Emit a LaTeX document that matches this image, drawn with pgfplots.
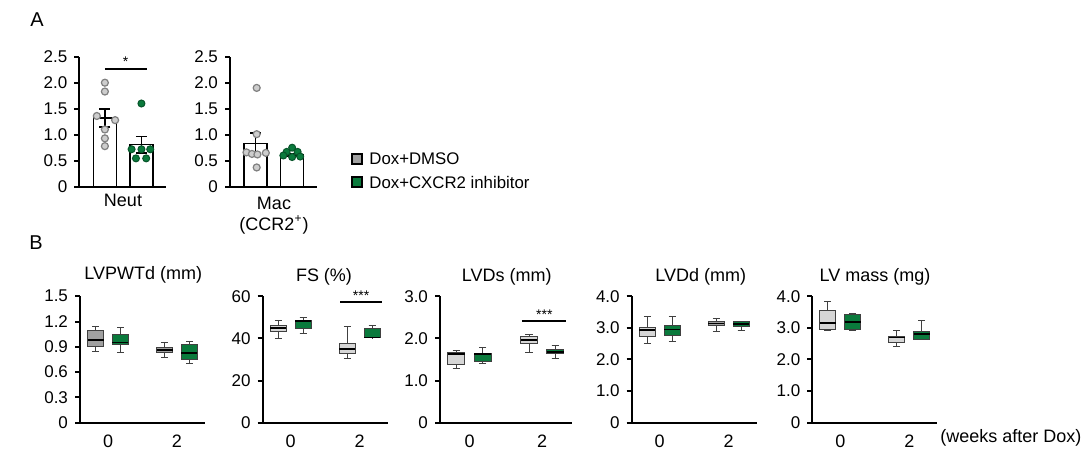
\documentclass[border=0pt]{standalone}
\usepackage{fontspec}
\setmainfont{Liberation Sans}
\usepackage{pgfplots}
\pgfplotsset{compat=1.18}
\usepgfplotslibrary{statistics}
\definecolor{dgreen}{RGB}{10,122,60}
\definecolor{lgray}{RGB}{214,214,214}
\definecolor{mgray}{RGB}{160,160,160}
\definecolor{dotgray}{RGB}{205,205,205}
\newcommand{\fA}{\fontsize{8.5}{10}\selectfont}
\newcommand{\fT}{\fontsize{9}{10.5}\selectfont}
\newcommand{\fL}{\fontsize{8.4}{10}\selectfont}
\pgfplotsset{
  base/.style={scale only axis, clip=false,
    axis x line*=bottom, axis y line*=left,
    axis line style={line width=1pt,-},
    tick style={line width=1pt, black}, tick align=outside,
    major tick length=2.5pt, xtick style={draw=none}},
  pA/.style={base, width=43.5pt, height=65pt, xmin=-0.7, xmax=1.68,
    ymin=0, ymax=2.5, ytick={0,0.5,1,1.5,2,2.5},
    yticklabels={0,0.5,1.0,1.5,2.0,2.5}, xtick=\empty,
    yticklabel style={font=\fA}},
  pB/.style={base, width=62.5pt, height=63.25pt, xmin=-0.406, xmax=1.406,
    xtick={0,1}, xticklabels={0,2},
    yticklabel style={font=\fA}, xticklabel style={font=\fT}},
  bx/.style={line width=0.5pt, draw=black!75},
  dmso/.style={only marks, mark=*, mark size=1.75pt,
    mark options={fill=dotgray, draw=black!50, line width=0.6pt}},
  cx/.style={only marks, mark=*, mark size=1.75pt,
    mark options={fill=dgreen, draw=dgreen!70!black, line width=0.5pt}},
  eb/.style={draw=none, mark=none, error bars/.cd, y dir=both, y explicit,
    error mark=|,
    error bar style={draw=black, line width=0.75pt},
    error mark options={draw=black, line width=0.75pt, mark size=2.75pt}},
  bar/.style={ybar, bar width=0.63, bar shift=0pt, fill=white, draw=black, line width=0.75pt},
}
\newcommand{\bp}[7]{\addplot[bx, fill=#7, boxplot prepared={draw direction=y, draw position=#1,
  lower whisker=#2, lower quartile=#3, median=#4, upper quartile=#5, upper whisker=#6,
  box extend=0.232, whisker extend=0.1}, boxplot/every median/.style={line width=0.8pt, black}] coordinates {};}
\begin{document}
\begin{tikzpicture}
\path[use as bounding box, fill=white] (0pt,0pt) rectangle (544pt,225.5pt);
% ---------- Panel A ----------
\node[font=\fontsize{10}{11}\selectfont] at (18.5pt,215.5pt) {A};
\begin{axis}[pA, at={(39.65pt,132.15pt)}, anchor=south west]
\addplot[bar] coordinates {(0,1.32) (1,0.81)};
\addplot[eb] coordinates {(0,1.32) +- (0,0.17) (1,0.81) +- (0,0.16)};
\addplot[dmso] coordinates {(0,2.0) (0,1.83) (-0.22,1.36) (0.28,1.28) (0,1.10) (0,0.93) (0,0.78)};
\addplot[cx] coordinates {(1,1.60) (0.73,0.72) (1,0.72) (1.24,0.72) (0.85,0.545) (1.13,0.545)};
\addplot[black, line width=0.9pt] coordinates {(0,2.27) (1.15,2.27)};
\node[font=\fontsize{7}{8}\selectfont] at (axis cs:0.57,2.40) {*};
\end{axis}
\node[font=\fT] at (61.5pt,125.5pt) {Neut};
\begin{axis}[pA, at={(115pt,132.15pt)}, anchor=south west]
\addplot[bar] coordinates {(0,0.83) (1,0.61)};
\addplot[eb] coordinates {(0,0.83) +- (0,0.20) (1,0.61) +- (0,0.03)};
\addplot[dmso] coordinates {(0.03,1.90) (0.03,1.01) (-0.25,0.66) (-0.1,0.63) (0.05,0.62) (0.28,0.65) (0.03,0.37)};
\addplot[cx] coordinates {(1,0.75) (0.85,0.67) (1.15,0.67) (0.76,0.60) (1.22,0.58) (1,0.57)};
\end{axis}
\node[font=\fT] at (137pt,124pt) {Mac};
\node[font=\fT] at (137pt,113pt) {(CCR2\textsuperscript{+})};
% legend
\node[draw=black, fill=mgray, minimum size=5pt, inner sep=0pt, line width=0.6pt] at (178.5pt,146pt) {};
\node[draw=black, fill=dgreen, minimum size=5pt, inner sep=0pt, line width=0.6pt] at (178.5pt,134.5pt) {};
\node[anchor=west, font=\fL, inner sep=0pt] at (184.5pt,146pt) {Dox+DMSO};
\node[anchor=west, font=\fL, inner sep=0pt] at (184.5pt,134.5pt) {Dox+CXCR2 inhibitor};
% ---------- Panel B ----------
\node[font=\fontsize{10}{11}\selectfont] at (18pt,104pt) {B};
\begin{axis}[pB, at={(40pt,14.15pt)}, anchor=south west, ymin=0, ymax=1.5,
  ytick={0,0.3,0.6,0.9,1.2,1.5}, yticklabels={0,0.3,0.6,0.9,1.2,1.5}]
\bp{-0.181}{0.85}{0.90}{0.98}{1.09}{1.137}{mgray}
\bp{0.181}{0.83}{0.93}{0.95}{1.046}{1.125}{dgreen}
\bp{0.819}{0.77}{0.83}{0.86}{0.89}{0.95}{mgray}
\bp{1.181}{0.70}{0.75}{0.83}{0.93}{0.967}{dgreen}
\end{axis}
\node[font=\fT] at (71.65pt,88pt) {LVPWTd (mm)};
\begin{axis}[pB, at={(131.35pt,14.15pt)}, anchor=south west, ymin=0, ymax=60,
  ytick={0,20,40,60}, yticklabels={0,20,40,60}]
\bp{-0.181}{39.8}{43.3}{44.8}{46.2}{48.4}{lgray}
\bp{0.181}{42.5}{44.6}{48.3}{48.4}{49.7}{dgreen}
\bp{0.819}{30.6}{32.7}{34.9}{37.5}{45.7}{lgray}
\bp{1.181}{40.2}{40.3}{40.5}{44.6}{46.0}{dgreen}
\addplot[black, line width=0.9pt] coordinates {(0.715,57.1) (1.32,57.1)};
\node[font=\fontsize{7}{8}\selectfont] at (axis cs:1.02,60.2) {***};
\end{axis}
\node[font=\fT] at (162pt,87pt) {FS (\%)};
\begin{axis}[pB, width=65.85pt, at={(220pt,14.15pt)}, anchor=south west, ymin=0, ymax=3,
  ytick={0,1,2,3}, yticklabels={0,1.0,2.0,3.0}]
\bp{-0.181}{1.29}{1.38}{1.63}{1.66}{1.72}{lgray}
\bp{0.181}{1.40}{1.46}{1.63}{1.64}{1.78}{dgreen}
\bp{0.819}{1.67}{1.87}{1.96}{2.04}{2.10}{lgray}
\bp{1.181}{1.52}{1.63}{1.68}{1.74}{1.84}{dgreen}
\addplot[black, line width=0.9pt] coordinates {(0.72,2.41) (1.33,2.41)};
\node[font=\fontsize{7}{8}\selectfont] at (axis cs:1.03,2.55) {***};
\end{axis}
\node[font=\fT] at (253.35pt,87pt) {LVDs (mm)};
\begin{axis}[pB, at={(315.85pt,14.15pt)}, anchor=south west, ymin=0, ymax=4,
  ytick={0,1,2,3,4}, yticklabels={0,1.0,2.0,3.0,4.0}]
\bp{-0.181}{2.51}{2.72}{2.93}{3.01}{3.35}{lgray}
\bp{0.181}{2.56}{2.75}{2.95}{3.08}{3.35}{dgreen}
\bp{0.819}{2.89}{3.06}{3.14}{3.21}{3.29}{mgray}
\bp{1.181}{2.93}{3.05}{3.12}{3.19}{3.21}{dgreen}
\end{axis}
\node[font=\fT] at (350.35pt,87pt) {LVDd (mm)};
\begin{axis}[pB, at={(406.15pt,14.15pt)}, anchor=south west, ymin=0, ymax=4,
  ytick={0,1,2,3,4}, yticklabels={0,1.0,2.0,3.0,4.0}]
\bp{-0.181}{2.93}{2.96}{3.16}{3.54}{3.84}{lgray}
\bp{0.181}{2.93}{2.96}{3.19}{3.43}{3.45}{dgreen}
\bp{0.819}{2.42}{2.54}{2.69}{2.74}{2.91}{lgray}
\bp{1.181}{2.63}{2.64}{2.80}{2.87}{3.24}{dgreen}
\end{axis}
\node[font=\fT] at (437.5pt,87pt) {LV mass (mg)};
\node[anchor=west, font=\fT, inner sep=0pt] at (470pt,6.5pt) {(weeks after Dox)};
\end{tikzpicture}
\end{document}
